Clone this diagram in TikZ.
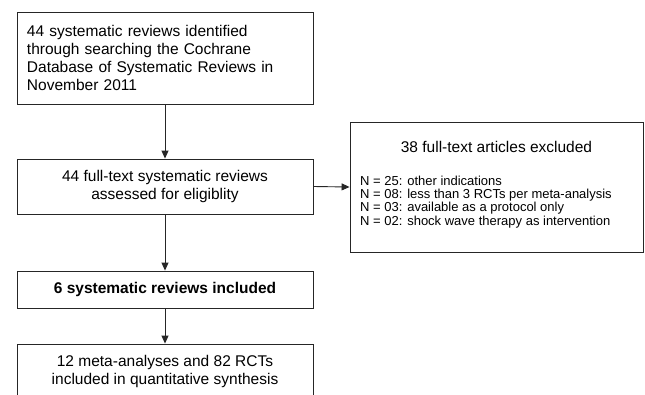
\documentclass[tikz,border=0pt]{standalone}
\usepackage{fontspec}
\setmainfont{Liberation Sans}
\usetikzlibrary{arrows.meta}
\begin{document}
\begin{tikzpicture}[x=1pt,y=-1pt,
  box/.style={draw=black!85,line width=0.9pt,rectangle,inner sep=0pt,minimum width=296pt},
  txt/.style={font=\fontsize{15.5}{18.3}\selectfont,align=center},
  arr/.style={draw=black!85,line width=0.9pt,-{Triangle[length=8pt,width=7pt]}}]
\clip (0,0) rectangle (645,394);
\fill[white] (0,0) rectangle (645,394);
\node[box,minimum height=92pt,text width=276pt,inner xsep=10pt,align=left,font=\fontsize{15.5}{18.3}\selectfont] (b1) at (165,58)
  {44 systematic reviews identified\\through searching the Cochrane\\Database of Systematic Reviews in\\November 2011};
\node[box,minimum height=55pt,txt] (b2) at (165,186.5) {44 full-text systematic reviews\\assessed for eligiblity};
\node[box,minimum height=37pt,txt,font=\fontsize{15.5}{18.3}\selectfont\bfseries] (b3) at (165,289.5) {6 systematic reviews included};
\node[box,minimum height=55pt,txt] (b4) at (165,371.5) {12 meta-analyses and 82 RCTs\\included in quantitative synthesis};
\node[box,minimum width=293pt,minimum height=130pt] (b5) at (496.5,187) {};
\node[txt,inner sep=0pt] (t5) at (496.5,147) {38 full-text articles excluded};
\node[anchor=west,inner sep=0pt,align=left,font=\fontsize{13}{13.2}\selectfont] (l5) at (360,202)
  {N = 25: other indications\\N = 08: less than 3 RCTs per meta-analysis\\N = 03: available as a protocol only\\N = 02: shock wave therapy as intervention};
\draw[arr] (b1.south) -- (b2.north);
\draw[arr] (b2.south) -- (b3.north);
\draw[arr] (b3.south) -- (b4.north);
\draw[arr] (b2.east) -- (b5.west);
\end{tikzpicture}
\end{document}
